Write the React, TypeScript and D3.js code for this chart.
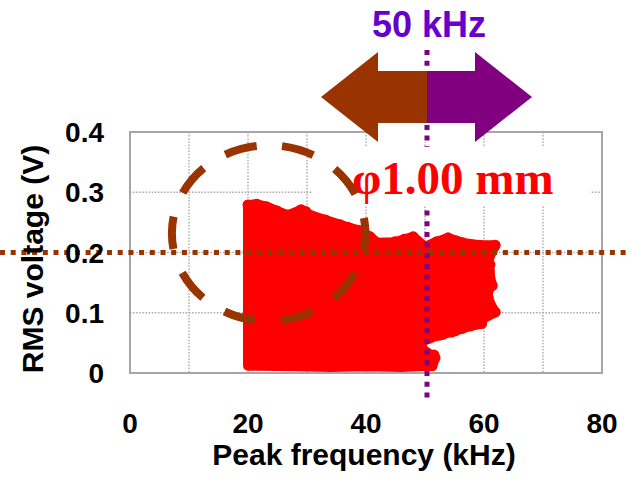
import React, { useEffect } from "react";
import * as d3 from "d3";

// axis ticks
const xTicks = [0, 20, 40, 60, 80];
const yTicks = [0, 0.1, 0.2, 0.3, 0.4];
const xGrid = [10, 20, 30, 40, 50, 60, 70];
const yGrid = [0.1, 0.2, 0.3];

// outline of the dense scatter cloud (dot centres)
const cloudTop: [number, number][] = [
  [20.0, 0.279], [21.5, 0.28], [23.1, 0.276], [24.9, 0.269], [26.6, 0.262],
  [28.0, 0.266], [29.0, 0.271], [30.5, 0.262], [33.1, 0.254], [35.6, 0.246],
  [36.9, 0.242], [39.0, 0.236], [40.7, 0.226], [41.9, 0.216], [44.9, 0.217],
  [46.5, 0.222], [48.0, 0.226], [50.0, 0.209], [52.0, 0.218], [53.9, 0.224],
  [56.4, 0.216], [59.3, 0.212], [61.9, 0.212],
];
const cloudRight: [number, number][] = [
  [60.8, 0.19], [60.9, 0.17], [61.2, 0.15], [60.6, 0.13], [61.0, 0.115],
  [61.9, 0.101], [59.8, 0.09], [59.6, 0.082], [57.6, 0.078], [55.1, 0.07],
  [52.5, 0.063], [50.8, 0.058], [49.5, 0.052], [49.5, 0.04], [51.7, 0.025],
  [51.2, 0.012],
];
const cloudBottom: [number, number][] = [
  [46.0, 0.01], [40.0, 0.011], [34.0, 0.01], [28.0, 0.011], [22.0, 0.012], [20.0, 0.012],
];
// individual points standing out along the cloud's edge
const edgeDots: [number, number][] = [
  [20.3, 0.278], [22.4, 0.274], [23.7, 0.273], [25.9, 0.264], [27.1, 0.257],
  [28.8, 0.269], [29.8, 0.268], [31.4, 0.256], [33.1, 0.252], [34.4, 0.247],
  [35.9, 0.244], [37.3, 0.24], [38.5, 0.237], [39.7, 0.23], [41.0, 0.218],
  [43.7, 0.211], [44.9, 0.218], [46.6, 0.221], [48.0, 0.225], [49.2, 0.211],
  [51.2, 0.207], [52.5, 0.215], [53.9, 0.224], [55.3, 0.219], [56.4, 0.215],
  [58.0, 0.212], [60.3, 0.208], [61.0, 0.18], [60.8, 0.165], [61.4, 0.145],
  [60.7, 0.125], [61.2, 0.11], [59.5, 0.087], [58.0, 0.08], [56.3, 0.074],
  [54.5, 0.068], [53.0, 0.064], [51.5, 0.03], [51.0, 0.018],
];

// annotations (data units)
const splitFreq = 50;
const refVolt = 0.2;
const ringCentre: [number, number] = [23.5, 0.232];
const ringRadius: [number, number] = [16.4, 0.146];

const W = 629;
const H = 480;
const sans = "'Liberation Sans', Arial, sans-serif";
const serif = "'Liberation Serif', 'Times New Roman', serif";

export default function App() {
  useEffect(() => {
    document.body.style.margin = "0";
  }, []);

  const x = d3.scaleLinear().domain([0, 80]).range([130, 602]);
  const y = d3.scaleLinear().domain([0, 0.4]).range([373, 132]);

  const outline = [...cloudTop, ...cloudRight, ...cloudBottom];
  const cloudPath = d3.line<[number, number]>()
    .x(d => x(d[0]))
    .y(d => y(d[1]))
    .curve(d3.curveLinearClosed)(outline) || "";

  const sx = x(splitFreq) + 2;
  const hy = y(refVolt);
  const cx = x(ringCentre[0]);
  const cy = y(ringCentre[1]);
  const rx = x(ringRadius[0]) - x(0);
  const ry = y(0) - y(ringRadius[1]);
  const perim = Math.PI * (3 * (rx + ry) - Math.sqrt((3 * rx + ry) * (rx + 3 * ry)));
  const period = perim / 10;
  const dash = period * 0.56;

  // double arrow around the 50 kHz split
  const aMid = 97, aHalf = 45, sHalf = 26;
  const leftArrow = [
    [sx - 106, aMid], [sx - 49, aMid - aHalf], [sx - 49, aMid - sHalf],
    [sx, aMid - sHalf], [sx, aMid + sHalf], [sx - 49, aMid + sHalf], [sx - 49, aMid + aHalf],
  ].map(p => p.join(",")).join(" ");
  const rightArrow = [
    [sx + 105, aMid], [sx + 48, aMid - aHalf], [sx + 48, aMid - sHalf],
    [sx, aMid - sHalf], [sx, aMid + sHalf], [sx + 48, aMid + sHalf], [sx + 48, aMid + aHalf],
  ].map(p => p.join(",")).join(" ");

  return (
    <svg width={W} height={H} style={{ display: "block", position: "absolute", left: 0, top: 0 }}>
      <rect width={W} height={H} fill="#fff" />

      {/* grid */}
      {xGrid.map(v => (
        <line key={"gx" + v} x1={x(v)} x2={x(v)} y1={y(0.4)} y2={y(0)}
          stroke="#a8a8a8" strokeWidth={1.4} strokeDasharray="1.5 1.6" />
      ))}
      {yGrid.map(v => (
        <line key={"gy" + v} x1={x(0)} x2={x(80)} y1={y(v)} y2={y(v)}
          stroke="#a8a8a8" strokeWidth={1.4} strokeDasharray="1.5 1.6" />
      ))}
      <rect x={x(0)} y={y(0.4)} width={x(80) - x(0)} height={y(0) - y(0.4)}
        fill="none" stroke="#a6a6a6" strokeWidth={2} />

      {/* scatter cloud */}
      <path d={cloudPath} fill="#ff0000" stroke="#ff0000" strokeWidth={10} strokeLinejoin="round" />
      {[...cloudTop, ...cloudRight, ...edgeDots].map((d, i) => (
        <circle key={"c" + i} cx={x(d[0])} cy={y(d[1])} r={5.5} fill="#ff0000" />
      ))}

      {/* white patch behind arrow */}
      <rect x={sx - 49} y={aMid - aHalf} width={97} height={aHalf * 2} fill="#fff" />

      {/* reference lines */}
      <line x1={0} x2={W} y1={hy} y2={hy} stroke="#993300" strokeWidth={5} strokeDasharray="5 5.7" />
      <line x1={sx} x2={sx} y1={50} y2={400} stroke="#800080" strokeWidth={5} strokeDasharray="5 5.7" />

      {/* label box */}
      <rect x={312} y={147} width={278} height={58} fill="#fff" />
      <text x={352} y={194} fill="#ff0000" fontFamily={serif} fontWeight="bold" fontSize={47}>φ1.00 mm</text>

      {/* dashed ring */}
      <ellipse cx={cx} cy={cy} rx={rx} ry={ry} fill="none" stroke="#993300" strokeWidth={8}
        strokeDasharray={`${dash} ${period - dash}`} strokeDashoffset={dash / 2} />

      {/* arrows */}
      <polygon points={leftArrow} fill="#993300" />
      <polygon points={rightArrow} fill="#800080" />
      <text x={sx + 2} y={37} textAnchor="middle" fill="#6600cc" fontFamily={sans} fontWeight="bold" fontSize={36}>50 kHz</text>

      {/* axes labels */}
      {yTicks.map(v => (
        <text key={"yt" + v} x={104} y={y(v)} dy="0.36em" textAnchor="end"
          fontFamily={sans} fontWeight="bold" fontSize={28}>{v === 0 ? "0" : v.toFixed(1)}</text>
      ))}
      {xTicks.map(v => (
        <text key={"xt" + v} x={x(v)} y={433} textAnchor="middle"
          fontFamily={sans} fontWeight="bold" fontSize={28}>{v}</text>
      ))}
      <text x={364} y={465} textAnchor="middle" fontFamily={sans} fontWeight="bold" fontSize={30}>Peak frequency (kHz)</text>
      <text transform="translate(43,259) rotate(-90)" textAnchor="middle" fontFamily={sans} fontWeight="bold" fontSize={30}>RMS voltage (V)</text>
    </svg>
  );
}
